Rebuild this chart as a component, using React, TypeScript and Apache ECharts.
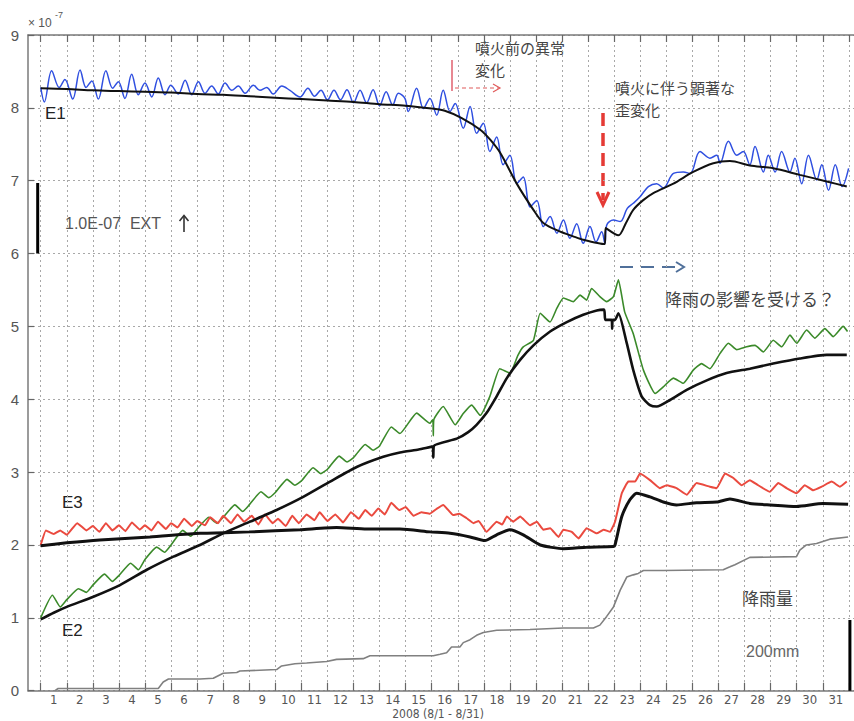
import React, { useEffect, useRef } from "react";
import * as echarts from "echarts";

// ---- axis definitions ----
const X_MIN = 0.513; // left frame (Jul 31 noon-ish)
const X_MAX = 32.197; // right edge of picture
const dayTicks = Array.from({ length: 32 }, (_, i) => i + 1); // day boundaries 1..32
const dayLabelPos = Array.from({ length: 31 }, (_, i) => i + 1.5); // label at mid-day
const Y_MIN = 0;
const Y_MAX = 9;
const X_AXIS_TITLE = "2008 (8/1 - 8/31)";

// ---- series data: [day, value (x1e-7)] ----
const e1Raw: number[][] = [
  [1.0, 8.28], [1.14, 8.08], [1.42, 8.51], [1.71, 8.28], [1.93, 8.39], [2.23, 8.12], [2.51, 8.52], [2.74, 8.28],
  [2.96, 8.37], [3.21, 8.12], [3.5, 8.51], [3.76, 8.27], [3.98, 8.36], [4.23, 8.13], [4.49, 8.46], [4.74, 8.18],
  [5.0, 8.34], [5.26, 8.15], [5.51, 8.41], [5.77, 8.18], [5.99, 8.31], [6.28, 8.19], [6.54, 8.38], [6.79, 8.18],
  [7.05, 8.36], [7.3, 8.2], [7.56, 8.3], [7.81, 8.19], [8.07, 8.34], [8.33, 8.24], [8.58, 8.3], [8.84, 8.2],
  [9.16, 8.31], [9.41, 8.24], [9.67, 8.28], [9.92, 8.19], [10.25, 8.3], [10.56, 8.24], [10.95, 8.15],
  [11.25, 8.27], [11.5, 8.16], [11.75, 8.24], [12.0, 8.11], [12.25, 8.24], [12.5, 8.11], [12.75, 8.25],
  [13.0, 8.07], [13.25, 8.24], [13.5, 8.07], [13.75, 8.25], [14.0, 8.03], [14.25, 8.22], [14.5, 8.04],
  [14.72, 8.2], [14.97, 8.13], [15.1, 7.95], [15.42, 8.27], [15.68, 7.99], [15.93, 8.13], [16.19, 7.9],
  [16.44, 8.24], [16.7, 7.95], [16.9, 8.06], [17.21, 7.72], [17.47, 8.02], [17.72, 7.65], [17.98, 7.79],
  [18.23, 7.4], [18.49, 7.6], [18.74, 7.22], [19.0, 7.35], [19.26, 6.96], [19.51, 7.05], [19.77, 6.64],
  [20.03, 6.73], [20.28, 6.37], [20.54, 6.51], [20.8, 6.28], [21.05, 6.46], [21.3, 6.21], [21.56, 6.41],
  [21.81, 6.14], [22.07, 6.37], [22.3, 6.16], [22.52, 6.3], [22.64, 6.14], [22.71, 6.39], [22.97, 6.46],
  [23.23, 6.44], [23.5, 6.62], [23.73, 6.69], [23.99, 6.78], [24.31, 6.92], [24.63, 6.96], [24.88, 6.9],
  [25.27, 7.1], [25.65, 7.12], [25.91, 7.1], [26.29, 7.4], [26.67, 7.31], [26.93, 7.35], [27.06, 7.24],
  [27.38, 7.54], [27.7, 7.35], [27.95, 7.4], [28.2, 7.22], [28.4, 7.47], [28.72, 7.12], [28.91, 7.35],
  [29.17, 7.12], [29.42, 7.4], [29.74, 7.12], [29.93, 7.31], [30.19, 6.96], [30.45, 7.35], [30.77, 7.01],
  [30.96, 7.22], [31.22, 6.87], [31.48, 7.22], [31.74, 6.92], [31.99, 7.17],
];
const e1Trend: number[][] = [
  [1.0, 8.27], [2, 8.26], [3, 8.24], [4, 8.23], [5, 8.22], [6, 8.21], [7, 8.19], [8, 8.18], [9, 8.16],
  [10, 8.14], [11, 8.12], [12, 8.1], [13, 8.08], [14, 8.05], [15, 8.03], [16, 7.99], [16.5, 7.96],
  [17.15, 7.86], [17.86, 7.7], [18.25, 7.56], [18.63, 7.38], [19.26, 6.96], [19.9, 6.6], [20.28, 6.42],
  [20.93, 6.3], [21.4, 6.24], [21.81, 6.19], [22.64, 6.13], [22.67, 6.35], [23.16, 6.25], [23.45, 6.42],
  [23.73, 6.6], [24.1, 6.73], [24.5, 6.83], [25.27, 6.96], [26.03, 7.12], [26.8, 7.24], [27.44, 7.27],
  [28.2, 7.21], [29.1, 7.17], [30.12, 7.08], [31.15, 6.99], [31.92, 6.92],
];
const e2Raw: number[][] = [
  [1.0, 1.0], [1.45, 1.31], [1.75, 1.15], [2.0, 1.25], [2.45, 1.4], [2.75, 1.35], [3.0, 1.45], [3.45, 1.6],
  [3.75, 1.5], [4.0, 1.58], [4.45, 1.75], [4.75, 1.66], [5.0, 1.8], [5.45, 1.97], [5.75, 1.9], [6.0, 2.0],
  [6.45, 2.2], [6.75, 2.12], [7.0, 2.22], [7.45, 2.38], [7.75, 2.3], [8.0, 2.38], [8.45, 2.55], [8.75, 2.46],
  [9.0, 2.55], [9.45, 2.73], [9.75, 2.65], [10.0, 2.72], [10.45, 2.9], [10.75, 2.82], [11.0, 2.88],
  [11.45, 3.06], [11.75, 2.98], [12.0, 3.04], [12.45, 3.22], [12.75, 3.14], [13.0, 3.2], [13.45, 3.38],
  [13.75, 3.3], [14.0, 3.36], [14.45, 3.62], [14.78, 3.53], [15.42, 3.81], [15.93, 3.67], [16.04, 3.72],
  [16.06, 3.5], [16.08, 3.72], [16.44, 3.9], [16.9, 3.65], [17.2, 3.8], [17.53, 3.92], [17.86, 3.78],
  [18.23, 4.04], [18.61, 4.42], [19.0, 4.36], [19.3, 4.6], [19.51, 4.72], [19.9, 4.81], [20.16, 5.18],
  [20.54, 5.06], [20.8, 5.25], [21.05, 5.39], [21.43, 5.34], [21.69, 5.43], [21.94, 5.36], [22.13, 5.52],
  [22.45, 5.41], [22.71, 5.34], [22.97, 5.41], [23.16, 5.64], [23.4, 5.2], [23.73, 4.9], [24.12, 4.4],
  [24.57, 4.08], [24.88, 4.17], [25.27, 4.29], [25.65, 4.22], [26.03, 4.4], [26.35, 4.49], [26.67, 4.42],
  [27.06, 4.63], [27.38, 4.77], [27.7, 4.68], [28.08, 4.72], [28.4, 4.74], [28.72, 4.65], [29.1, 4.81],
  [29.42, 4.72], [29.74, 4.88], [30.0, 4.77], [30.38, 4.95], [30.7, 4.84], [31.08, 4.97], [31.4, 4.86],
  [31.78, 5.0], [31.95, 4.93],
];
const e2Trend: number[][] = [
  [1.0, 0.98], [1.5, 1.07], [2.0, 1.15], [3.02, 1.29], [4.04, 1.45], [5.07, 1.66], [6.09, 1.84], [7.11, 2.0],
  [8.0, 2.16], [9.03, 2.32], [10.05, 2.48], [11.07, 2.66], [12.1, 2.87], [13.12, 3.07], [14.14, 3.21],
  [14.78, 3.27], [15.5, 3.31], [16.04, 3.35], [16.06, 3.2], [16.08, 3.36], [16.96, 3.46], [17.4, 3.55],
  [17.72, 3.65], [18.1, 3.81], [18.49, 4.04], [18.88, 4.29], [19.39, 4.54], [19.9, 4.74], [20.54, 4.93],
  [21.18, 5.06], [21.81, 5.16], [22.33, 5.22], [22.61, 5.23], [22.66, 5.09], [22.9, 5.09], [22.92, 4.97],
  [22.94, 5.09], [23.03, 5.09], [23.16, 5.18], [23.48, 4.77], [23.73, 4.4], [24.05, 4.04], [24.37, 3.92],
  [24.63, 3.9], [25.14, 3.99], [25.78, 4.13], [26.55, 4.26], [27.31, 4.36], [28.2, 4.42], [29.1, 4.49],
  [30.12, 4.56], [31.15, 4.61], [31.92, 4.61],
];
const e3Raw: number[][] = [
  [1.0, 2.0], [1.2, 2.2], [1.5, 2.15], [1.75, 2.2], [2.0, 2.14], [2.4, 2.3], [2.75, 2.2], [3.0, 2.26],
  [3.25, 2.18], [3.5, 2.3], [3.75, 2.2], [4.0, 2.27], [4.25, 2.19], [4.5, 2.31], [4.8, 2.21], [5.0, 2.27],
  [5.25, 2.2], [5.5, 2.32], [5.8, 2.22], [6.0, 2.3], [6.25, 2.24], [6.5, 2.36], [6.8, 2.26], [7.0, 2.33],
  [7.3, 2.27], [7.5, 2.38], [7.8, 2.3], [8.0, 2.4], [8.3, 2.3], [8.55, 2.42], [8.8, 2.32], [9.1, 2.4],
  [9.35, 2.28], [9.6, 2.42], [9.9, 2.3], [10.1, 2.36], [10.4, 2.26], [10.65, 2.4], [10.9, 2.3], [11.2, 2.42],
  [11.5, 2.34], [11.7, 2.45], [12.0, 2.33], [12.3, 2.42], [12.6, 2.31], [12.9, 2.45], [13.2, 2.36],
  [13.45, 2.48], [13.7, 2.4], [13.95, 2.5], [14.2, 2.42], [14.45, 2.58], [14.75, 2.48], [15.0, 2.52],
  [15.3, 2.4], [15.6, 2.45], [15.93, 2.43], [16.2, 2.5], [16.44, 2.55], [16.82, 2.41], [17.05, 2.43],
  [17.33, 2.37], [17.6, 2.3], [17.8, 2.33], [18.1, 2.18], [18.49, 2.32], [18.7, 2.28], [18.88, 2.39],
  [19.13, 2.32], [19.39, 2.39], [19.77, 2.27], [20.03, 2.32], [20.28, 2.21], [20.54, 2.23], [20.86, 2.11],
  [21.05, 2.21], [21.37, 2.18], [21.63, 2.09], [21.94, 2.23], [22.33, 2.16], [22.59, 2.21], [22.84, 2.18],
  [23.03, 2.32], [23.29, 2.71], [23.54, 2.87], [23.8, 2.87], [23.99, 2.98], [24.37, 2.89], [24.75, 2.78],
  [25.01, 2.82], [25.39, 2.78], [25.78, 2.69], [26.16, 2.85], [26.67, 2.8], [26.93, 2.78], [27.25, 2.98],
  [27.57, 2.92], [27.89, 2.82], [28.2, 2.89], [28.52, 2.82], [28.97, 2.73], [29.29, 2.85], [29.61, 2.78],
  [29.99, 2.71], [30.31, 2.82], [30.63, 2.75], [30.96, 2.8], [31.34, 2.87], [31.66, 2.8], [31.92, 2.87],
];
const e3Trend: number[][] = [
  [1.0, 1.99], [2.0, 2.03], [3.27, 2.07], [5.19, 2.11], [7.11, 2.16], [9.03, 2.18], [10.95, 2.21],
  [12.35, 2.24], [13.5, 2.22], [14.78, 2.22], [15.93, 2.18], [16.7, 2.16], [17.47, 2.11], [18.04, 2.06],
  [18.49, 2.14], [19.0, 2.21], [19.51, 2.14], [20.16, 2.0], [21.05, 1.95], [21.94, 1.97], [22.97, 1.98],
  [23.03, 2.0], [23.29, 2.39], [23.6, 2.62], [23.86, 2.71], [24.37, 2.66], [24.88, 2.59], [25.39, 2.55],
  [26.16, 2.58], [26.93, 2.59], [27.44, 2.63], [28.2, 2.57], [28.97, 2.55], [29.99, 2.53], [31.01, 2.57],
  [31.97, 2.56],
];
// cumulative rainfall (1 unit = 200 mm)
const rainfall: number[][] = [
  [1.55, 0], [1.67, 0.03], [5.51, 0.03], [5.7, 0.12], [5.9, 0.16], [7.11, 0.16], [7.62, 0.17], [8.0, 0.24],
  [8.52, 0.25], [8.64, 0.27], [10.05, 0.29], [10.24, 0.34], [10.75, 0.37], [11.2, 0.38], [11.97, 0.4],
  [12.35, 0.43], [13.37, 0.44], [13.63, 0.48], [16.06, 0.48], [16.32, 0.5], [16.57, 0.52], [16.76, 0.6],
  [17.08, 0.6], [17.21, 0.66], [17.47, 0.7], [17.72, 0.76], [17.98, 0.8], [18.49, 0.83], [19.77, 0.84],
  [21.05, 0.86], [22.2, 0.86], [22.45, 0.9], [22.71, 1.02], [22.97, 1.15], [23.23, 1.38], [23.48, 1.56],
  [23.73, 1.59], [23.92, 1.61], [24.12, 1.65], [24.88, 1.65], [27.18, 1.66], [27.44, 1.7], [27.63, 1.73],
  [28.2, 1.83], [29.99, 1.84], [30.12, 1.93], [30.37, 2.0], [30.76, 2.02], [31.27, 2.08], [31.97, 2.11],
];
// scale bars: strain 1.0E-07 (left) and 200 mm rain (right)
const strainScaleBar: number[][] = [[0.885, 6.0], [0.885, 6.97]];
const rainScaleBar: number[][] = [[32.04, 0.0], [32.04, 0.97]];

const FONT_NARROW = '"Liberation Sans Narrow", "DejaVu Sans Condensed", "Arial Narrow", "Liberation Sans", sans-serif';
const FONT_SANS = '"Liberation Sans", Arial, sans-serif';
const FONT_JP = '"Noto Sans CJK JP", "Noto Sans", sans-serif';

function txt(text: string, x: number, y: number, size: number, color: string, family = FONT_JP, align = "left") {
  return {
    type: "text",
    x,
    y,
    silent: true,
    style: {
      text,
      fill: color,
      font: `normal ${size}px ${family}`,
      textAlign: align,
      align,
      textVerticalAlign: "top",
      verticalAlign: "top",
    },
  };
}

export default function App() {
  const ref = useRef<HTMLDivElement>(null);
  useEffect(() => {
    if (!ref.current) return;
    const chart = echarts.init(ref.current, undefined, { renderer: "svg" });
    const line = (data: number[][], color: string, width: number, smooth: number | boolean = false, z = 2) => ({
      type: "line",
      data,
      showSymbol: false,
      symbol: "none",
      smooth,
      z,
      silent: true,
      lineStyle: { color, width },
    });
    const gridLine = { show: true, lineStyle: { color: "#a8a8a8", type: [2, 3], width: 1 } };
    chart.setOption({
      animation: false,
      backgroundColor: "#ffffff",
      grid: { left: 28, right: 0, top: 35, bottom: 30.3, containLabel: false, outerBoundsMode: "none" },
      xAxis: [
        {
          type: "value",
          position: "bottom",
          min: X_MIN,
          max: X_MAX,
          axisLine: { show: true, lineStyle: { color: "#7a7a7a", width: 1.5 } },
          axisTick: { show: true, inside: true, length: 8, customValues: dayTicks, lineStyle: { color: "#666", width: 1.2 } },
          axisLabel: {
            customValues: dayLabelPos,
            formatter: (v: number) => String(Math.floor(v)),
            color: "#555",
            fontSize: 13,
            fontFamily: FONT_NARROW,
            margin: 2,
          },
          splitLine: gridLine,
        },
        {
          type: "value",
          position: "top",
          min: X_MIN,
          max: X_MAX,
          axisLine: { show: true, lineStyle: { color: "#7a7a7a", width: 1.5 } },
          axisTick: { show: true, inside: true, length: 7, customValues: dayTicks, lineStyle: { color: "#666", width: 1.2 } },
          axisLabel: { show: false },
          splitLine: { show: false },
        },
      ],
      yAxis: {
        type: "value",
        min: Y_MIN,
        max: Y_MAX,
        interval: 1,
        axisLine: { show: true, lineStyle: { color: "#7a7a7a", width: 1.5 } },
        axisTick: { show: true, inside: true, length: 6, lineStyle: { color: "#666", width: 1.2 } },
        axisLabel: { color: "#555", fontSize: 15, fontFamily: FONT_SANS, margin: 9 },
        splitLine: gridLine,
      },
      series: [
        line(rainfall, "#808080", 1.6, false, 1),
        line(e1Raw, "#2f4fe0", 1.5, 0.35, 2),
        line(e2Raw, "#3b8a2a", 1.6, 0.15, 2),
        line(e3Raw, "#ea4a3f", 2, 0.1, 2),
        line(e1Trend, "#111111", 2, 0.3, 3),
        line(e2Trend, "#111111", 2.6, 0.2, 3),
        line(e3Trend, "#111111", 3, 0.2, 3),
        line(strainScaleBar, "#000000", 3, false, 4),
        line(rainScaleBar, "#000000", 3, false, 4),
      ],
      graphic: [
        txt(X_AXIS_TITLE, 438, 707.5, 12, "#555", FONT_NARROW, "center"),
        txt("× 10", 28, 17, 12, "#555", FONT_SANS),
        txt("-7", 55, 10, 9, "#555", FONT_SANS),
        txt("E1", 45, 105, 17, "#222", FONT_SANS),
        txt("E3", 62, 494, 17, "#222", FONT_SANS),
        txt("E2", 62, 622, 17, "#222", FONT_SANS),
        txt("1.0E-07  EXT", 65, 215, 16, "#555", FONT_SANS),
        {
          type: "line",
          silent: true,
          shape: { x1: 184, y1: 232, x2: 184, y2: 216 },
          style: { stroke: "#333", lineWidth: 1.6 },
        },
        {
          type: "polyline",
          silent: true,
          shape: { points: [[179.5, 221], [184, 215.5], [188.5, 221]] },
          style: { stroke: "#333", lineWidth: 1.6, fill: "none" },
        },
        txt("噴火前の異常", 475, 40, 15, "#444"),
        txt("変化", 475, 62, 15, "#444"),
        {
          type: "line",
          silent: true,
          shape: { x1: 452, y1: 60, x2: 452, y2: 91 },
          style: { stroke: "#e0606e", lineWidth: 1.5 },
        },
        {
          type: "line",
          silent: true,
          shape: { x1: 455, y1: 88, x2: 499, y2: 88 },
          style: { stroke: "#e05a5a", lineWidth: 1.2, lineDash: [4, 3] },
        },
        {
          type: "polyline",
          silent: true,
          shape: { points: [[493, 84], [500, 88], [493, 92]] },
          style: { stroke: "#e05a5a", lineWidth: 1.2, fill: "none" },
        },
        txt("噴火に伴う顕著な", 615, 80, 15, "#444"),
        txt("歪変化", 615, 102, 15, "#444"),
        {
          type: "line",
          silent: true,
          shape: { x1: 603, y1: 113, x2: 603, y2: 200 },
          style: { stroke: "#e53a35", lineWidth: 3.5, lineDash: [13, 7] },
        },
        {
          type: "polyline",
          silent: true,
          shape: { points: [[597, 192], [603, 205], [609, 192]] },
          style: { stroke: "#e53a35", lineWidth: 3, fill: "none" },
        },
        {
          type: "line",
          silent: true,
          shape: { x1: 620, y1: 267, x2: 682, y2: 267 },
          style: { stroke: "#50709a", lineWidth: 2, lineDash: [13, 8] },
        },
        {
          type: "polyline",
          silent: true,
          shape: { points: [[676, 262], [684, 267], [676, 272]] },
          style: { stroke: "#50709a", lineWidth: 2, fill: "none" },
        },
        txt("降雨の影響を受ける？", 665, 290, 17, "#444"),
        txt("降雨量", 742, 589, 17, "#444"),
        txt("200mm", 746, 643, 16, "#666", FONT_SANS),
      ],
    });
    return () => chart.dispose();
  }, []);
  return <div ref={ref} style={{ position: "absolute", left: 0, top: 0, width: 854, height: 721, background: "#fff" }} />;
}
